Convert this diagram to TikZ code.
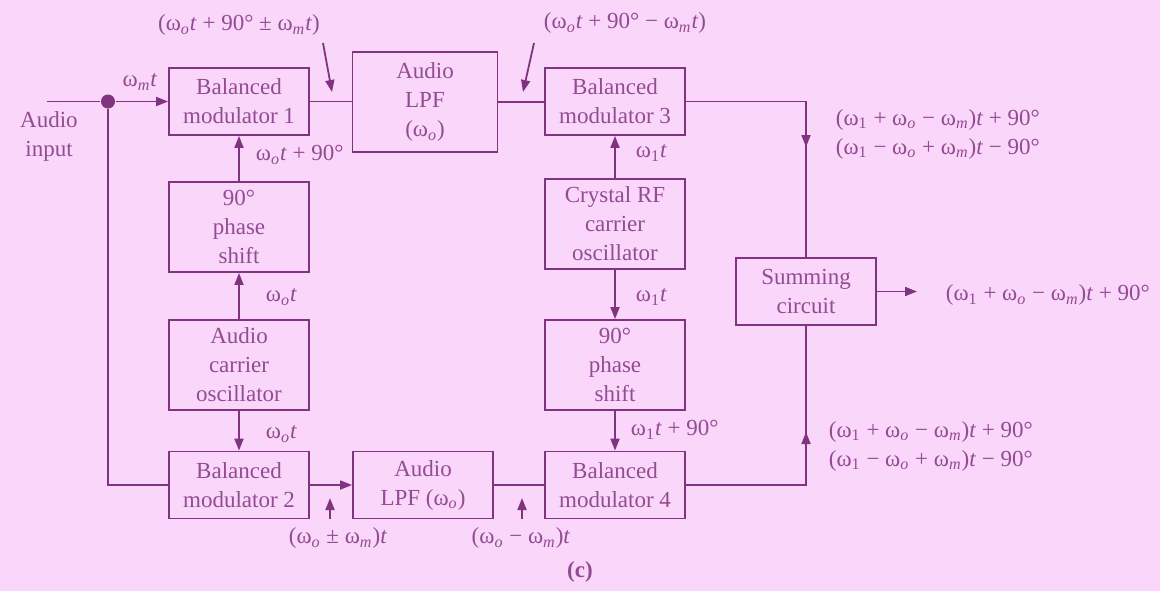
\documentclass[tikz,border=0pt]{standalone}
\usepackage{fontspec}
\setmainfont{Liberation Serif}
\usetikzlibrary{arrows.meta, positioning}
\definecolor{bgpink}{RGB}{250,214,250}
\definecolor{ink}{RGB}{128,52,128}
\definecolor{inktext}{RGB}{146,76,146}
\newcommand{\omg}[1]{ω\textsubscript{\textit{#1}}}
\newcommand{\tme}{\textit{t}}

\begin{document}
\begin{tikzpicture}[x=0.5pt, y=-0.5pt, color=ink, line width=0.9pt,
    font=\fontsize{11.5}{14.5}\selectfont,
    block/.style={draw=ink, text=inktext, align=center, inner sep=0pt,
                  minimum width=70pt, minimum height=33.5pt},
    tall/.style={minimum height=45pt},
    lbl/.style={text=inktext, inner sep=1pt, align=left},
    arr/.style={-{Triangle[length=6pt, width=4.5pt]}}]
    % background and frame
    \fill[bgpink] (0,0) rectangle (1160,591);
    \useasboundingbox (0,0) rectangle (1160,591);

    % upper row
    \node[block] (bmA) at (239,101.5) {Balanced\\modulator 1};
    \node[block, minimum width=72.5pt, minimum height=50pt] (lpfA) at (425,102) {Audio\\LPF\\(\omg{o})};
    \node[block] (bmC) at (615,101.5) {Balanced\\modulator 3};

    % audio carrier column
    \node[block, tall] (psA) at (239,227) {90°\\phase\\shift};
    \node[block, tall] (oscA) at (239,365) {Audio\\carrier\\oscillator};

    % RF carrier column
    \node[block, tall] (crys) at (615,224) {Crystal RF\\carrier\\oscillator};
    \node[block, tall] (psB) at (615,365) {90°\\phase\\shift};

    % lower row
    \node[block] (bmB) at (239,485) {Balanced\\modulator 2};
    \node[block] (lpfB) at (423,485) {Audio\\LPF (\omg{o})};
    \node[block] (bmD) at (615,485) {Balanced\\modulator 4};

    % summing
    \node[block] (sum) at (806,291.5) {Summing\\circuit};

    % input
    \coordinate (inp) at (47,101.5);
    \node[circle, fill=ink, inner sep=0pt, minimum size=7pt] (dot) at (108,101.5) {};
    \node[lbl, align=center] (lblIn) at (49,136) {Audio\\input};
    \draw (inp) -- (dot);
    \draw[arr] (dot) -- (bmA.west);
    \draw (dot) |- (bmB.west);
    \node[lbl] (lblWm) at (140,82) {\omg{m}\tme};

    % upper signal path
    \draw (bmA.east) -- (bmA.east -| lpfA.west);
    \draw (lpfA.east) -- (lpfA.east -| bmC.west);
    \node[lbl] (lblTopA) at (239,25) {(\omg{o}\tme{} + 90° ± \omg{m}\tme)};
    \node[lbl] (lblTopB) at (625,23) {(\omg{o}\tme{} + 90° − \omg{m}\tme)};
    \coordinate (sA) at (323,43);
    \coordinate (sAt) at (332,92);
    \coordinate (sB) at (534,43);
    \coordinate (sBt) at (523,92);
    \draw[arr] (sA) -- (sAt);
    \draw[arr] (sB) -- (sBt);

    % audio carrier
    \draw[arr] (psA.north) -- (bmA.south);
    \draw[arr] (oscA.north) -- (psA.south);
    \draw[arr] (oscA.south) -- (bmB.north);
    \node[lbl, anchor=west] (lblPsA) at (253,155) {\omg{o}\tme{} + 90°};
    \node[lbl, anchor=west] (lblOscUp) at (263,297) {\omg{o}\tme};
    \node[lbl, anchor=west] (lblOscDn) at (263,434) {\omg{o}\tme};

    % RF carrier
    \draw[arr] (crys.north) -- (bmC.south);
    \draw[arr] (crys.south) -- (psB.north);
    \draw[arr] (psB.south) -- (bmD.north);
    \node[lbl, anchor=west] (lblW1a) at (633,153) {ω\textsubscript{1}\tme};
    \node[lbl, anchor=west] (lblW1b) at (633,297) {ω\textsubscript{1}\tme};
    \node[lbl, anchor=west] (lblW1c) at (628,430) {ω\textsubscript{1}\tme{} + 90°};

    % lower signal path
    \draw[arr] (bmB.east) -- (lpfB.west);
    \draw (lpfB.east) -- (bmD.west);
    \coordinate (pA) at (330,519);
    \coordinate (pAt) at (330,498);
    \coordinate (pB) at (522,519);
    \coordinate (pBt) at (522,498);
    \draw[arr] (pA) -- (pAt);
    \draw[arr] (pB) -- (pBt);
    \node[lbl] (lblLpfIn) at (338,538) {(\omg{o} ± \omg{m})\tme};
    \node[lbl] (lblBmIn) at (521,538) {(\omg{o} − \omg{m})\tme};

    % into summing circuit
    \coordinate (tipA) at (806,147);
    \coordinate (tipB) at (806,432);
    \draw (bmC.east) -| (sum.north);
    \draw[arr] (bmC.east -| sum.north) -- (tipA);
    \draw (bmD.east) -| (sum.south);
    \draw[arr] (bmD.east -| sum.south) -- (tipB);
    \node[lbl, anchor=west] (lblMixUp) at (833,134)
        {(ω\textsubscript{1} + \omg{o} − \omg{m})\tme{} + 90°\\(ω\textsubscript{1} − \omg{o} + \omg{m})\tme{} − 90°};
    \node[lbl, anchor=west] (lblMixDn) at (826,446)
        {(ω\textsubscript{1} + \omg{o} − \omg{m})\tme{} + 90°\\(ω\textsubscript{1} − \omg{o} + \omg{m})\tme{} − 90°};

    % output
    \coordinate (outTip) at (917,291.5);
    \draw[arr] (sum.east) -- (outTip);
    \node[lbl, anchor=west] (lblOut) at (943,295) {(ω\textsubscript{1} + \omg{o} − \omg{m})\tme{} + 90°};

    \node[lbl, font=\fontsize{11.5}{14.5}\selectfont\bfseries] (lblFig) at (580,572) {(c)};
\end{tikzpicture}
\end{document}
